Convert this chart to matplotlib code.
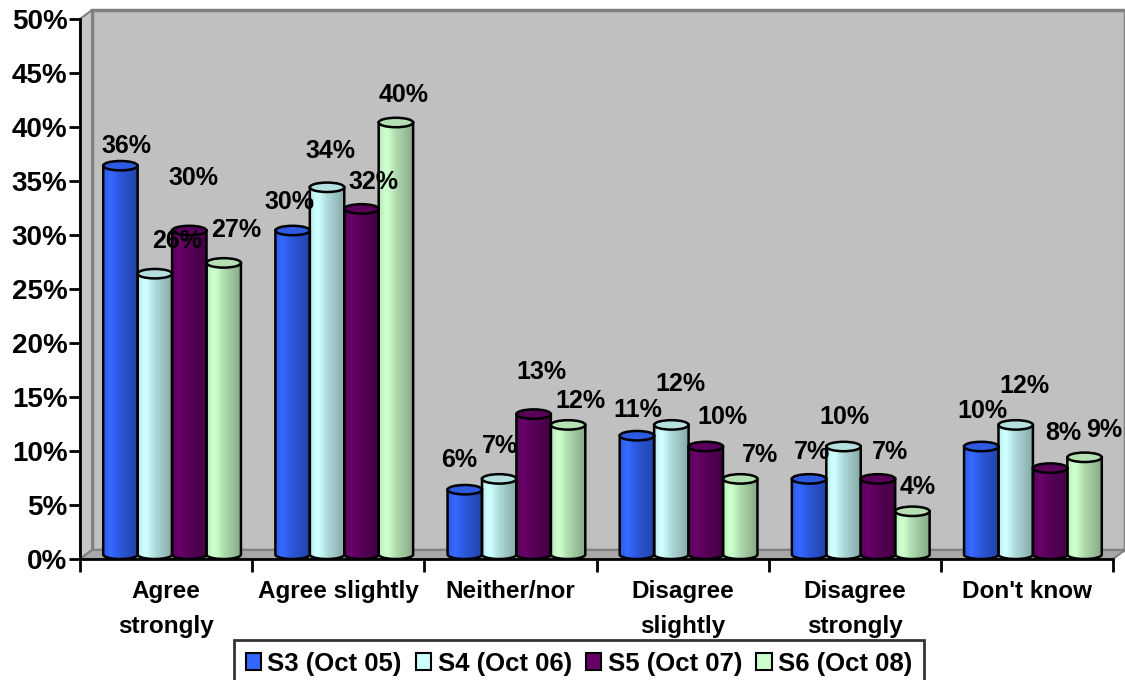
import numpy as np
import matplotlib
matplotlib.use("Agg")
import matplotlib.pyplot as plt
from matplotlib.patches import Ellipse, Polygon, Patch
from matplotlib.colors import to_rgb

plt.rcParams['font.family'] = ['Liberation Sans', 'DejaVu Sans']
plt.rcParams['font.weight'] = 'bold'

categories = ["Agree\nstrongly", "Agree slightly", "Neither/nor",
              "Disagree\nslightly", "Disagree\nstrongly", "Don't know"]
series_names = ["S3 (Oct 05)", "S4 (Oct 06)", "S5 (Oct 07)", "S6 (Oct 08)"]
s3 = [36, 30, 6, 11, 7, 10]
s4 = [26, 34, 7, 12, 10, 12]
s5 = [30, 32, 13, 10, 7, 8]
s6 = [27, 40, 12, 7, 4, 9]
y_ticks = [0, 5, 10, 15, 20, 25, 30, 35, 40, 45, 50]

colors = ["#3366FF", "#CCFFFF", "#660066", "#CCFFCC"]

# where excel put each value label, pixel offset from the cylinder top
label_nudge = [
    [(6, 20), (-3, 28), (-6, 30), (1, 26), (3, 27), (1, 36)],
    [(22, 33), (3, 36), (1, 33), (9, 41), (1, 30), (9, 39)],
    [(4, 52), (12, 27), (8, 42), (17, 30), (12, 27), (13, 35)],
    [(12, 33), (8, 27), (12, 24), (20, 24), (5, 24), (20, 27)],
]

W, H = 1125, 680
fig = plt.figure(figsize=(W / 100, H / 100), dpi=100)
ax_l, ax_b, ax_w, ax_h = 80, 680 - 559, 1033, 540
ax = fig.add_axes([ax_l / W, ax_b / H, ax_w / W, ax_h / H])
ax.set_facecolor("none")

ncat = len(categories)
ymax = 50
dx = 12 / (ax_w / ncat)      # depth offset in data units
dy = 9 / (ax_h / ymax)

# walls and floor
back = Polygon([(dx, dy), (ncat + dx, dy), (ncat + dx, ymax + dy), (dx, ymax + dy)],
               closed=True, facecolor="#C0C0C0", edgecolor="#808080", lw=2.5,
               clip_on=False, zorder=0)
side = Polygon([(0, 0), (dx, dy), (dx, ymax + dy), (0, ymax)], closed=True,
               facecolor="#C8C8C8", edgecolor="#808080", lw=1.5, clip_on=False, zorder=0.5)
floor = Polygon([(0, 0), (ncat, 0), (ncat + dx, dy), (dx, dy)], closed=True,
                facecolor="#A8A8A8", edgecolor="#808080", lw=1.5, clip_on=False, zorder=0.6)
for p in (back, side, floor):
    ax.add_patch(p)


def shade(c, f):
    c = np.array(to_rgb(c))
    if f >= 1:
        return c + (1 - c) * (f - 1)
    return c * f


def cylinder(x0, w, val, color):
    base = dy / 2
    top = val + dy / 2
    cx = x0 + w / 2
    t = np.linspace(np.pi, 2 * np.pi, 40)
    arc = np.column_stack([cx + w / 2 * np.cos(t), base + dy / 2 * np.sin(t)])
    verts = np.vstack([[(x0, top)], arc, [(x0 + w, top)]])
    body = Polygon(verts, closed=True, facecolor="none", edgecolor="black", lw=1.8, zorder=3)
    ax.add_patch(body)
    prof = np.linspace(0, 1, 60)
    fac = np.interp(prof, [0, 0.2, 0.5, 1.0], [0.9, 1.03, 0.85, 0.66])
    img = np.array([[shade(color, f) for f in fac]])
    im = ax.imshow(img, extent=[x0, x0 + w, base - dy / 2, top], aspect="auto",
                   interpolation="bilinear", zorder=2)
    im.set_clip_path(body)
    cap = Ellipse((cx, top), w, dy * 1.05, facecolor=shade(color, 0.88), edgecolor="black",
                  lw=1.8, zorder=4)
    ax.add_patch(cap)
    return cx, top


series = [s3, s4, s5, s6]
bw = 0.2
for j, vals in enumerate(series):
    for i, v in enumerate(vals):
        x0 = i + 0.1 + bw * j + dx / 2
        cx, top = cylinder(x0, bw, v, colors[j])
        ax.annotate(f"{v}%", xy=(cx, top), xytext=label_nudge[j][i],
                    textcoords="offset pixels", ha="center", va="center",
                    fontsize=18, fontweight="bold", zorder=10,
                    annotation_clip=False)

ax.set_xlim(0, ncat)
ax.set_ylim(0, ymax)

for s in ("top", "right"):
    ax.spines[s].set_visible(False)
for s in ("left", "bottom"):
    ax.spines[s].set_linewidth(2)
    ax.spines[s].set_zorder(5)

ax.set_yticks(y_ticks)
ax.set_yticklabels([f"{t}%" for t in y_ticks], fontsize=20, fontweight="bold")
ax.tick_params(axis="y", direction="out", length=8, width=2, pad=1)

ax.set_xticks(np.arange(ncat + 1))
ax.set_xticklabels([])
ax.tick_params(axis="x", which="major", direction="out", length=9, width=2)
ax.set_xticks(np.arange(ncat) + 0.5, minor=True)
ax.set_xticklabels(categories, minor=True, fontsize=17.5, fontweight="bold",
                   linespacing=1.7)
ax.tick_params(axis="x", which="minor", length=0, pad=15)

handles = [Patch(facecolor=c, edgecolor="black", lw=1.5) for c in colors]
leg = fig.legend(handles, series_names, loc="upper center",
                 bbox_to_anchor=(579 / W, 1 - 640 / H), ncol=4, frameon=True,
                 fancybox=False, edgecolor="black", handlelength=0.6,
                 handleheight=0.6, handletextpad=0.25, columnspacing=0.55,
                 borderpad=0.45, borderaxespad=0,
                 prop={"weight": "bold", "size": 18.5})
leg.get_frame().set_linewidth(2)
leg.get_frame().set_facecolor("white")

fig.savefig("out.png", dpi=100, facecolor="white")
